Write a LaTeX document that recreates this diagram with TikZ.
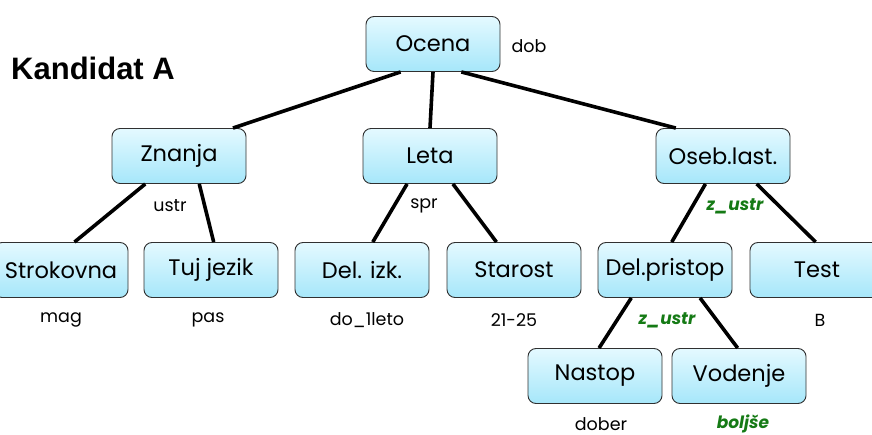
\documentclass[tikz,border=0pt]{standalone}
\usepackage{fontspec}
\setmainfont{Poppins}
\newfontfamily\arialb{Liberation Sans}
\usetikzlibrary{calc}
\definecolor{boxtop}{HTML}{E4F9FF}
\definecolor{boxbot}{HTML}{A6E7FA}
\definecolor{boxline}{HTML}{303030}
\definecolor{lblgreen}{HTML}{157A15}
\begin{document}
\begin{tikzpicture}[x=1pt,y=-1pt,
  box/.style={draw=boxline, line width=0.9pt, rounded corners=8pt,
    top color=boxtop, bottom color=boxbot, minimum width=134pt, minimum height=55pt,
    inner sep=0pt, font=\fontsize{22.5}{26}\selectfont},
  lbl/.style={font=\fontsize{17.5}{20}\selectfont, inner sep=0pt},
  glbl/.style={font=\fontsize{17}{20}\selectfont\bfseries\itshape, text=lblgreen, inner sep=0pt},
  edge/.style={line width=3.6pt, black}]
\useasboundingbox (0,0) rectangle (872,435);
% nodes
\node[box] (oc) at (433,44) {Ocena};
\node[box] (zn) at (179,156) {Znanja};
\node[box] (le) at (430,156) {Leta};
\node[box] (os) at (723,156) {Oseb.last.};
\node[box] (st) at (61,270) {Strokovna};
\node[box] (tj) at (211,270) {Tuj jezik};
\node[box] (di) at (362,270) {Del. izk.};
\node[box] (sa) at (514,270) {Starost};
\node[box] (dp) at (665,270) {Del.pristop};
\node[box] (te) at (817,270) {Test};
\node[box] (na) at (595,376) {Nastop};
\node[box] (vo) at (739,376) {Vodenje};
% title
\node[font=\arialb\bfseries\fontsize{31}{34}\selectfont, inner sep=0pt] (kand) at (93,68) {Kandidat A};
% labels
\node[lbl] (l1) at (529,46) {dob};
\node[lbl] (l2) at (170,206) {ustr};
\node[lbl] (l3) at (424,206) {spr};
\node[glbl] (l4) at (735,206) {z\_ustr};
\node[lbl] (l5) at (61,320) {mag};
\node[lbl] (l6) at (208,320) {pas};
\node[lbl] (l7) at (367,320) {do\_1leto};
\node[lbl] (l8) at (514,320) {21-25};
\node[glbl] (l9) at (667,320) {z\_ustr};
\node[lbl] (l10) at (820,320) {B};
\node[lbl] (l11) at (601,424) {dober};
\node[glbl] (l12) at (743,424) {boljše};
% edges
\draw[edge] ($(oc.south west)!0.26!(oc.south east)$) -- ($(zn.north west)!0.90!(zn.north east)$);
\draw[edge] (oc.south) -- (le.north);
\draw[edge] ($(oc.south west)!0.71!(oc.south east)$) -- ($(os.north west)!0.15!(os.north east)$);
\draw[edge] ($(zn.south west)!0.25!(zn.south east)$) -- ($(st.north west)!0.60!(st.north east)$);
\draw[edge] ($(zn.south west)!0.65!(zn.south east)$) -- ($(tj.north west)!0.52!(tj.north east)$);
\draw[edge] ($(le.south west)!0.33!(le.south east)$) -- ($(di.north west)!0.58!(di.north east)$);
\draw[edge] ($(le.south west)!0.67!(le.south east)$) -- ($(sa.north west)!0.37!(sa.north east)$);
\draw[edge] ($(os.south west)!0.37!(os.south east)$) -- ($(dp.north west)!0.55!(dp.north east)$);
\draw[edge] ($(os.south west)!0.75!(os.south east)$) -- ($(te.north west)!0.49!(te.north east)$);
\draw[edge] ($(dp.south west)!0.25!(dp.south east)$) -- ($(na.north west)!0.53!(na.north east)$);
\draw[edge] ($(dp.south west)!0.76!(dp.south east)$) -- ($(vo.north west)!0.49!(vo.north east)$);
\end{tikzpicture}
\end{document}
